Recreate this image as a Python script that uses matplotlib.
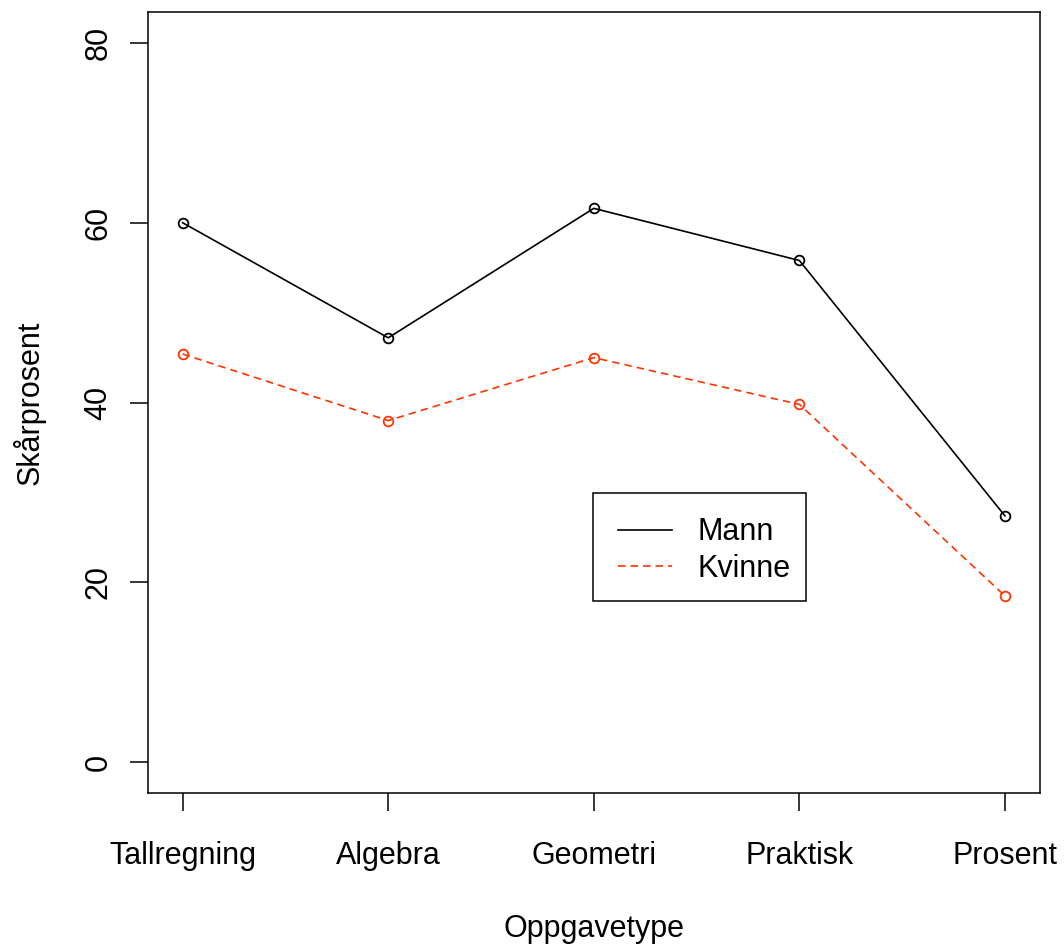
import matplotlib.pyplot as plt
from matplotlib.patches import Rectangle

plt.rcParams['font.family'] = ['Liberation Sans', 'DejaVu Sans']

# data
oppgavetyper = ['Tallregning', 'Algebra', 'Geometri', 'Praktisk', 'Prosent']
mann = [60.0, 47.2, 61.6, 55.8, 27.4]
kvinne = [45.4, 38.0, 45.0, 39.8, 18.5]
y_ticks = [0, 20, 40, 60, 80]

red = '#FF3300'
fs = 22

fig = plt.figure(figsize=(10.64, 9.47), dpi=100)
ax = fig.add_axes([148.3 / 1064, 1 - 793.3 / 947, 891.4 / 1064, 781 / 947])

x = list(range(1, len(oppgavetyper) + 1))
ax.plot(x, mann, color='black', lw=1.2, marker='o', ms=7, mfc='none',
        mew=1.3, label='Mann')
ax.plot(x, kvinne, color=red, lw=1.2, ls=(0, (4.5, 3)), marker='o', ms=7,
        mfc='none', mew=1.3, label='Kvinne')

ax.set_xlim(0.833, 5.169)
ax.set_ylim(-3.45, 83.4)

ax.set_xticks(x)
ax.set_xticklabels(oppgavetyper, fontsize=fs)
ax.set_yticks(y_ticks)
ax.set_yticklabels([str(v) for v in y_ticks], fontsize=fs, rotation=90,
                   va='center')
ax.tick_params(axis='both', length=13, width=1.1, direction='out')
ax.tick_params(axis='x', pad=21)
ax.tick_params(axis='y', pad=12)

for s in ax.spines.values():
    s.set_linewidth(1.1)

ax.set_xlabel('Oppgavetype', fontsize=fs, labelpad=31)
ax.set_ylabel('Skårprosent', fontsize=fs, labelpad=27)

# legend entries without frame, R-style box drawn separately
leg = ax.legend(loc='upper left', bbox_to_anchor=(0.499, 0.3845),
                borderaxespad=0, fontsize=fs, frameon=False,
                handlelength=1.77, handletextpad=0.85, borderpad=0.8,
                labelspacing=0.22)
for h in leg.legend_handles:
    h.set_marker('')
ax.add_patch(Rectangle((0.4989, 0.2462), 0.2389, 0.1383, transform=ax.transAxes,
                       fill=False, edgecolor='black', lw=1.1, zorder=5))

fig.savefig('out.png', dpi=100)
